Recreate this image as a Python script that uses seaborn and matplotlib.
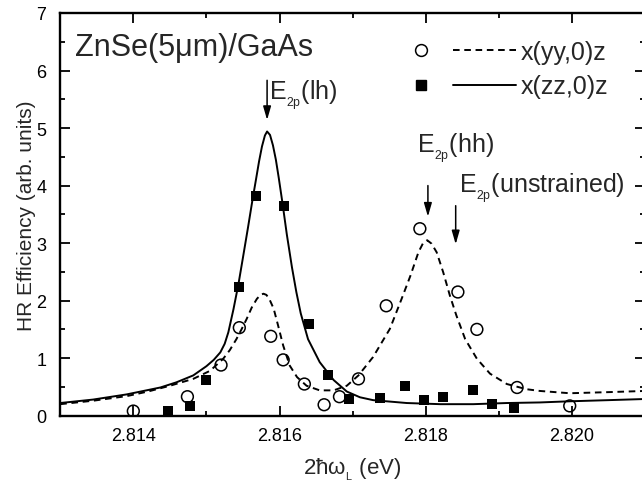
import matplotlib
matplotlib.use("Agg")
import matplotlib.pyplot as plt
import seaborn as sns
import numpy as np
from matplotlib.lines import Line2D
from matplotlib.legend_handler import HandlerTuple
from matplotlib.ticker import FixedLocator, MultipleLocator

# ---------------- data ----------------
# measured points, x(yy,0)z (open circles)
yy_x = [2.81400, 2.81474, 2.81520, 2.81545, 2.81588, 2.81605, 2.81634, 2.81661,
        2.81682, 2.81708, 2.81746, 2.81792, 2.81844, 2.81870, 2.81925, 2.81997]
yy_y = [0.08, 0.33, 0.88, 1.53, 1.38, 0.97, 0.55, 0.19,
        0.33, 0.64, 1.91, 3.25, 2.15, 1.50, 0.49, 0.17]

# measured points, x(zz,0)z (filled squares)
zz_x = [2.81448, 2.81478, 2.81499, 2.81545, 2.81568, 2.81606, 2.81640, 2.81667,
        2.81695, 2.81737, 2.81772, 2.81798, 2.81823, 2.81865, 2.81891, 2.81921]
zz_y = [0.08, 0.16, 0.62, 2.24, 3.82, 3.65, 1.59, 0.70,
        0.29, 0.31, 0.52, 0.28, 0.32, 0.45, 0.20, 0.13]

# fitted curve, x(zz,0)z (solid)
zz_fit_x = [2.81300, 2.81345, 2.81391, 2.81437, 2.81459, 2.81482, 2.81500, 2.81510,
            2.81519, 2.81525, 2.81530, 2.81537, 2.81544, 2.81550, 2.81557, 2.81563,
            2.81568, 2.81572, 2.81576, 2.81580, 2.81583, 2.81587, 2.81591, 2.81595,
            2.81599, 2.81604, 2.81610, 2.81617, 2.81623, 2.81629, 2.81639, 2.81655,
            2.81674, 2.81692, 2.81710, 2.81728, 2.81774, 2.81820, 2.81865, 2.81911,
            2.81956, 2.81997, 2.82050, 2.82100]
zz_fit_y = [0.22, 0.28, 0.37, 0.49, 0.58, 0.70, 0.86, 0.97,
            1.10, 1.25, 1.45, 1.85, 2.30, 2.75, 3.28, 3.75,
            4.12, 4.42, 4.68, 4.87, 4.94, 4.88, 4.70, 4.45,
            4.13, 3.70, 3.15, 2.58, 2.15, 1.78, 1.33, 0.93,
            0.62, 0.42, 0.32, 0.27, 0.22, 0.20, 0.20, 0.22,
            0.23, 0.25, 0.27, 0.29]

# fitted curve, x(yy,0)z (dashed)
yy_fit_x = [2.81300, 2.81345, 2.81391, 2.81420, 2.81450, 2.81482, 2.81505, 2.81523,
            2.81532, 2.81541, 2.81548, 2.81555, 2.81562, 2.81569, 2.81574, 2.81578,
            2.81582, 2.81586, 2.81592, 2.81598, 2.81605, 2.81614, 2.81624, 2.81637,
            2.81655, 2.81674, 2.81692, 2.81708, 2.81728, 2.81751, 2.81767, 2.81779,
            2.81790, 2.81796, 2.81802, 2.81808, 2.81815, 2.81824, 2.81833, 2.81842,
            2.81854, 2.81870, 2.81888, 2.81911, 2.81938, 2.81956, 2.81997, 2.82052,
            2.82100]
yy_fit_y = [0.20, 0.26, 0.34, 0.42, 0.52, 0.64, 0.78, 0.99,
            1.14, 1.33, 1.50, 1.68, 1.88, 2.03, 2.10, 2.12,
            2.10, 2.03, 1.86, 1.57, 1.22, 0.87, 0.67, 0.52,
            0.44, 0.44, 0.52, 0.70, 1.02, 1.51, 2.03, 2.43,
            2.84, 2.99, 3.05, 2.99, 2.84, 2.49, 2.09, 1.74,
            1.33, 0.99, 0.73, 0.55, 0.46, 0.43, 0.39, 0.41,
            0.43]

x_major = [2.814, 2.816, 2.818, 2.820]
x_labels = ["2.814", "2.816", "2.818", "2.820"]
y_major = [0, 1, 2, 3, 4, 5, 6, 7]
y_labels = ["0", "1", "2", "3", "4", "5", "6", "7"]

# ---------------- style ----------------
sns.set_style("ticks")
plt.rcParams["font.family"] = ["Liberation Sans", "DejaVu Sans"]
plt.rcParams["mathtext.fontset"] = "custom"
plt.rcParams["mathtext.rm"] = "Liberation Sans"
plt.rcParams["mathtext.it"] = "Liberation Sans:italic"
plt.rcParams["mathtext.bf"] = "Liberation Sans:bold"

fig = plt.figure(figsize=(6.42, 4.89), dpi=100)
ax = fig.add_axes([0.0938, 0.1479, 0.9109, 0.8235])

dash = (0, (3.4, 2.4))
sns.lineplot(x=zz_fit_x, y=zz_fit_y, ax=ax, color="black", lw=1.4, sort=False,
             legend=False)
sns.lineplot(x=yy_fit_x, y=yy_fit_y, ax=ax, color="black", lw=1.4, sort=False,
             linestyle=dash, legend=False)
sns.scatterplot(x=yy_x, y=yy_y, ax=ax, marker="o", s=72, facecolor="none",
                edgecolor="black", linewidth=1.1, legend=False, zorder=3)
sns.scatterplot(x=zz_x, y=zz_y, ax=ax, marker="s", s=58, color="black",
                edgecolor="black", linewidth=0, legend=False, zorder=3)

ax.set_xlim(2.813, 2.821)
ax.set_ylim(0, 7)
ax.xaxis.set_major_locator(FixedLocator(x_major))
ax.set_xticklabels(x_labels)
ax.xaxis.set_minor_locator(MultipleLocator(0.001))
ax.yaxis.set_major_locator(FixedLocator(y_major))
ax.set_yticklabels(y_labels)
ax.yaxis.set_minor_locator(MultipleLocator(0.5))

for sp in ax.spines.values():
    sp.set_visible(True)
    sp.set_linewidth(1.7)
    sp.set_color("black")

ax.tick_params(which="both", direction="in", top=True, right=True, color="black",
               width=1.3, labelsize=13, labelcolor="black")
ax.tick_params(which="major", length=7)
ax.tick_params(which="minor", length=3.5)
ax.tick_params(axis="x", pad=8)
ax.tick_params(axis="y", pad=10)

ax.set_xlabel("2ħω$_{{}_\\mathrm{L}}$ (eV)", fontsize=16, labelpad=9)
ax.set_ylabel("HR Efficiency (arb. units)", fontsize=15)
ax.yaxis.set_label_coords(-0.041, 0.5)

# ---------------- annotations ----------------
ax.text(2.8132, 6.27, "ZnSe(5μm)/GaAs", fontsize=22, va="baseline", ha="left")

sub = "E$_{{}_\\mathrm{2p}}$"
arrow = dict(arrowstyle="-|>,head_length=0.45,head_width=0.13", lw=1.1,
             color="black", mutation_scale=18, shrinkA=0, shrinkB=0)
ax.text(2.81586, 5.50, sub + "(lh)", fontsize=18, va="baseline", ha="left")
ax.annotate("", xy=(2.81583, 5.14), xytext=(2.81583, 5.83), arrowprops=arrow)

ax.text(2.81788, 4.59, sub + "(hh)", fontsize=18, va="baseline", ha="left")
ax.annotate("", xy=(2.81803, 3.46), xytext=(2.81803, 4.00), arrowprops=arrow)

ax.text(2.81845, 3.89, sub + "(unstrained)", fontsize=18, va="baseline",
        ha="left")
ax.annotate("", xy=(2.81841, 2.98), xytext=(2.81841, 3.65), arrowprops=arrow)

# ---------------- legend ----------------
h_circle = Line2D([], [], ls="none", marker="o", mfc="none", mec="black", ms=8.5, mew=1.1)
h_square = Line2D([], [], ls="none", marker="s", mfc="black", mec="black", ms=7.6)
h_dash = Line2D([], [], ls=dash, color="black", lw=1.4)
h_solid = Line2D([], [], ls="-", color="black", lw=1.4)
ax.legend([(h_circle, h_dash), (h_square, h_solid)], ["x(yy,0)z", "x(zz,0)z"],
          handler_map={tuple: HandlerTuple(ndivide=None, pad=0)},
          loc="upper left", bbox_to_anchor=(0.562, 0.933), frameon=False,
          fontsize=18, handlelength=5.1, handletextpad=0.16, labelspacing=0.42,
          borderpad=0, borderaxespad=0)

fig.savefig("out.png", dpi=100)
